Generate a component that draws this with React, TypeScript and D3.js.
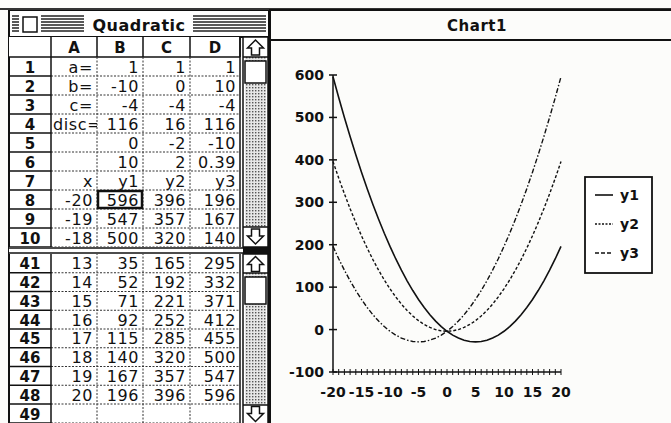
import React from "react";
import * as d3 from "d3";

const X_VALUES = [-20,-19,-18,-17,-16,-15,-14,-13,-12,-11,-10,-9,-8,-7,-6,-5,-4,-3,-2,-1,0,1,2,3,4,5,6,7,8,9,10,11,12,13,14,15,16,17,18,19,20];
const Y1 = [596,547,500,455,412,371,332,295,260,227,196,167,140,115,92,71,52,35,20,7,-4,-13,-20,-25,-28,-29,-28,-25,-20,-13,-4,7,20,35,52,71,92,115,140,167,196];
const Y2 = [396,357,320,285,252,221,192,165,140,117,96,77,60,45,32,21,12,5,0,-3,-4,-3,0,5,12,21,32,45,60,77,96,117,140,165,192,221,252,285,320,357,396];
const Y3 = [196,167,140,115,92,71,52,35,20,7,-4,-13,-20,-25,-28,-29,-28,-25,-20,-13,-4,7,20,35,52,71,92,115,140,167,196,227,260,295,332,371,412,455,500,547,596];
const SERIES_NAMES = ["y1", "y2", "y3"];
const Y_TICKS = [-100, 0, 100, 200, 300, 400, 500, 600];
const X_TICK_LABELS = [-20, -15, -10, -5, 0, 5, 10, 15, 20];
const COLUMN_NAMES = ["A", "B", "C", "D"];
const PARAM_ROWS = [
  ["a=", "1", "1", "1"],
  ["b=", "-10", "0", "10"],
  ["c=", "-4", "-4", "-4"],
  ["disc=", "116", "16", "116"],
  ["", "0", "-2", "-10"],
  ["", "10", "2", "0.39"],
  ["x", "y1", "y2", "y3"],
];
const UPPER_DATA_IDX = [0, 1, 2];
const LOWER_DATA_IDX = [33, 34, 35, 36, 37, 38, 39, 40];
const SHEET_TITLE = "Quadratic";
const CHART_TITLE = "Chart1";

const FONT = "'DejaVu Sans', Verdana, sans-serif";

function dataRow(i: number) {
  return [String(X_VALUES[i]), String(Y1[i]), String(Y2[i]), String(Y3[i])];
}

function Stripes({ x0, x1 }: { x0: number; x1: number }) {
  return (
    <g>
      {[0, 1, 2, 3, 4, 5].map((k) => (
        <line key={k} x1={x0} x2={x1} y1={16 + k * 3} y2={16 + k * 3} stroke="#222" strokeWidth={1.3} />
      ))}
    </g>
  );
}

function Arrow({ cx, cy, up }: { cx: number; cy: number; up: boolean }) {
  const s = up ? -1 : 1;
  const pts = [
    [cx, cy + s * 8],
    [cx - 8, cy],
    [cx - 4, cy],
    [cx - 4, cy - s * 7],
    [cx + 4, cy - s * 7],
    [cx + 4, cy],
    [cx + 8, cy],
  ];
  return <polygon points={pts.map((p) => p.join(",")).join(" ")} fill="white" stroke="#111" strokeWidth={1.5} />;
}

function ScrollBar({ top, bottom, thumbTop, thumbH, arrowH }: { top: number; bottom: number; thumbTop: number; thumbH: number; arrowH: number }) {
  const x0 = 243;
  const x1 = 268;
  return (
    <g>
      <rect x={x0} y={top} width={x1 - x0} height={bottom - top} fill="white" stroke="#111" strokeWidth={1.5} />
      <rect x={x0 + 2} y={top + arrowH} width={x1 - x0 - 4} height={bottom - top - 2 * arrowH} fill="url(#dots)" />
      <line x1={x0} x2={x1} y1={top + arrowH} y2={top + arrowH} stroke="#111" strokeWidth={1.5} />
      <line x1={x0} x2={x1} y1={bottom - arrowH} y2={bottom - arrowH} stroke="#111" strokeWidth={1.5} />
      <rect x={x0 + 2} y={thumbTop} width={x1 - x0 - 4} height={thumbH} fill="white" stroke="#111" strokeWidth={1.5} />
      <Arrow cx={(x0 + x1) / 2} cy={top + arrowH / 2 + 1} up={true} />
      <Arrow cx={(x0 + x1) / 2} cy={bottom - arrowH / 2 - 1} up={false} />
    </g>
  );
}

export default function App() {
  const colX = [51, 97, 143, 190, 240];
  const hdrX0 = 9;

  const upperRows: { label: string; cells: string[]; y: number; h: number }[] = [];
  PARAM_ROWS.forEach((r, i) => upperRows.push({ label: String(i + 1), cells: r, y: 57 + i * 19, h: 19 }));
  UPPER_DATA_IDX.forEach((di, j) =>
    upperRows.push({ label: String(8 + j), cells: dataRow(di), y: 57 + (7 + j) * 19, h: 19 })
  );
  const lowerRows: { label: string; cells: string[]; y: number; h: number }[] = [];
  LOWER_DATA_IDX.forEach((di, j) =>
    lowerRows.push({ label: String(41 + j), cells: dataRow(di), y: 254 + j * 18.75, h: 18.75 })
  );
  lowerRows.push({ label: "49", cells: ["", "", "", ""], y: 404, h: 19 });

  const allRows = [...upperRows, ...lowerRows];

  // chart scales
  const x = d3.scaleLinear().domain([-20, 20]).range([333, 561]);
  const y = d3.scaleLinear().domain([-100, 600]).range([372, 75]);
  const seriesData = [Y1, Y2, Y3];
  const dashes = ["none", "3,2", "5,2,1.5,2"];
  const legendDashes = ["none", "2,1.5", "4,2"];
  const line = d3
    .line<number>()
    .x((_, i) => x(X_VALUES[i]))
    .y((d) => y(d));

  return (
    <svg
      width={671}
      height={423}
      style={{ position: "absolute", left: 0, top: 0, background: "#fcfcfa" }}
      fontFamily={FONT}
    >
      <defs>
        <pattern id="dots" width={3} height={3} patternUnits="userSpaceOnUse">
          <rect width={3} height={3} fill="#e6e6e6" />
          <rect width={1.4} height={1.4} fill="#555" />
        </pattern>
        <clipPath id="sheetClip">
          <rect x={9} y={37} width={232} height={386} />
        </clipPath>
        {[0, 1, 2, 3].map((ci) => (
          <clipPath key={ci} id={`colClip${ci}`}>
            <rect x={colX[ci] + 1} y={37} width={colX[ci + 1] - colX[ci] - 1} height={386} />
          </clipPath>
        ))}
      </defs>

      {/* ---------- Spreadsheet window ---------- */}
      <rect x={9} y={10} width={260} height={420} fill="white" stroke="#111" strokeWidth={2} />
      <line x1={0} x2={671} y1={9} y2={9} stroke="#333" strokeWidth={2} />
      {/* title bar */}
      <Stripes x0={12} x1={84} />
      <Stripes x0={193} x1={266} />
      <rect x={19} y={14} width={22} height={21} fill="white" />
      <rect x={23} y={17} width={14} height={15} fill="white" stroke="#111" strokeWidth={1.5} />
      <text x={139} y={31} textAnchor="middle" fontSize={16} fontWeight="bold" fill="#111" letterSpacing={0.5}>
        {SHEET_TITLE}
      </text>
      <line x1={9} x2={269} y1={37} y2={37} stroke="#111" strokeWidth={2} />

      {/* column headers */}
      <g>
        <rect x={hdrX0} y={37} width={colX[4] - hdrX0} height={20} fill="white" />
        {COLUMN_NAMES.map((c, i) => (
          <text key={c} x={(colX[i] + colX[i + 1]) / 2} y={53} textAnchor="middle" fontSize={15} fontWeight="bold" fill="#111">
            {c}
          </text>
        ))}
        {colX.map((cx, i) => (
          <line key={i} x1={cx} x2={cx} y1={37} y2={57} stroke="#111" strokeWidth={1.5} />
        ))}
        <line x1={hdrX0} x2={colX[4]} y1={57} y2={57} stroke="#111" strokeWidth={1.5} />
      </g>

      {/* rows */}
      <g clipPath="url(#sheetClip)">
        {allRows.map((r) => (
          <g key={r.label}>
            <text x={30} y={r.y + r.h - 3.5} textAnchor="middle" fontSize={15} fontWeight="bold" fill="#111">
              {r.label}
            </text>
            <line x1={hdrX0} x2={colX[0]} y1={r.y + r.h} y2={r.y + r.h} stroke="#111" strokeWidth={1.5} />
            <line x1={colX[0]} x2={colX[4]} y1={r.y + r.h} y2={r.y + r.h} stroke="#333" strokeWidth={1} strokeDasharray="2,1.5" />
            {r.cells.map((c, ci) => {
              const long = c.length > 4;
              return (
                <g key={ci} clipPath={`url(#colClip${ci})`}>
                  <text
                    x={long ? colX[ci] + 2 : colX[ci + 1] - 4}
                    y={r.y + r.h - 3.5}
                    textAnchor={long ? "start" : "end"}
                    fontSize={16}
                    letterSpacing={0.6}
                    fill="#111"
                  >
                    {c}
                  </text>
                </g>
              );
            })}
          </g>
        ))}
        {/* column separators */}
        <line x1={colX[0]} x2={colX[0]} y1={57} y2={423} stroke="#111" strokeWidth={1.5} />
        {colX.slice(1, 4).map((cx, i) => (
          <line key={i} x1={cx} x2={cx} y1={57} y2={423} stroke="#333" strokeWidth={1} strokeDasharray="2,1.5" />
        ))}
        <line x1={colX[4]} x2={colX[4]} y1={37} y2={423} stroke="#111" strokeWidth={1.5} />
      </g>
      {/* active cell B8 */}
      <rect x={colX[1] + 1} y={57 + 7 * 19 + 1} width={colX[2] - colX[1] - 2} height={17} fill="none" stroke="#111" strokeWidth={2.5} />

      {/* split between panes */}
      <rect x={9} y={247} width={234} height={7} fill="white" />
      <line x1={9} x2={243} y1={248} y2={248} stroke="#111" strokeWidth={1.5} />
      <line x1={9} x2={243} y1={253} y2={253} stroke="#111" strokeWidth={1.5} />
      <rect x={243} y={247} width={25} height={7} fill="#111" />

      {/* scrollbars */}
      <ScrollBar top={37} bottom={247} thumbTop={61} thumbH={22} arrowH={20} />
      <ScrollBar top={254} bottom={424} thumbTop={277} thumbH={27} arrowH={19} />

      {/* ---------- Chart window ---------- */}
      <rect x={270} y={10} width={420} height={420} fill="#fcfcfa" stroke="#111" strokeWidth={2} />
      <line x1={270} x2={671} y1={40} y2={40} stroke="#111" strokeWidth={2} />
      <text x={477} y={31} textAnchor="middle" fontSize={15} fontWeight="bold" fill="#111" letterSpacing={0.5}>
        {CHART_TITLE}
      </text>

      {/* axes */}
      <g stroke="#111" strokeWidth={1.5}>
        <line x1={x(-20)} x2={x(-20)} y1={y(600)} y2={y(-100)} />
        <line x1={x(-20)} x2={x(20)} y1={y(-100)} y2={y(-100)} />
        {Y_TICKS.map((t) => (
          <line key={t} x1={x(-20) - 4} x2={x(-20) + 4} y1={y(t)} y2={y(t)} />
        ))}
        {X_VALUES.map((v) => (
          <line key={v} x1={x(v)} x2={x(v)} y1={y(-100) - 3} y2={y(-100) + 3} strokeWidth={1} />
        ))}
      </g>
      <g fontSize={14} fontWeight="bold" fill="#111">
        {Y_TICKS.map((t) => (
          <text key={t} x={324} y={y(t) + 5} textAnchor="end">
            {t}
          </text>
        ))}
        {X_TICK_LABELS.map((t) => (
          <text key={t} x={x(t)} y={397} textAnchor="middle">
            {t}
          </text>
        ))}
      </g>

      {/* series */}
      {seriesData.map((s, i) => (
        <path key={i} d={line(s) || ""} fill="none" stroke="#111" strokeWidth={i === 0 ? 1.6 : 1.4} strokeDasharray={dashes[i]} />
      ))}

      {/* legend */}
      <rect x={585} y={177} width={67} height={96} fill="white" stroke="#111" strokeWidth={1.8} />
      {SERIES_NAMES.map((n, i) => (
        <g key={n}>
          <line x1={595} x2={613} y1={195 + i * 29} y2={195 + i * 29} stroke="#111" strokeWidth={1.6} strokeDasharray={legendDashes[i]} />
          <text x={620} y={200 + i * 29} fontSize={14} fontWeight="bold" fill="#111">
            {n}
          </text>
        </g>
      ))}
    </svg>
  );
}
